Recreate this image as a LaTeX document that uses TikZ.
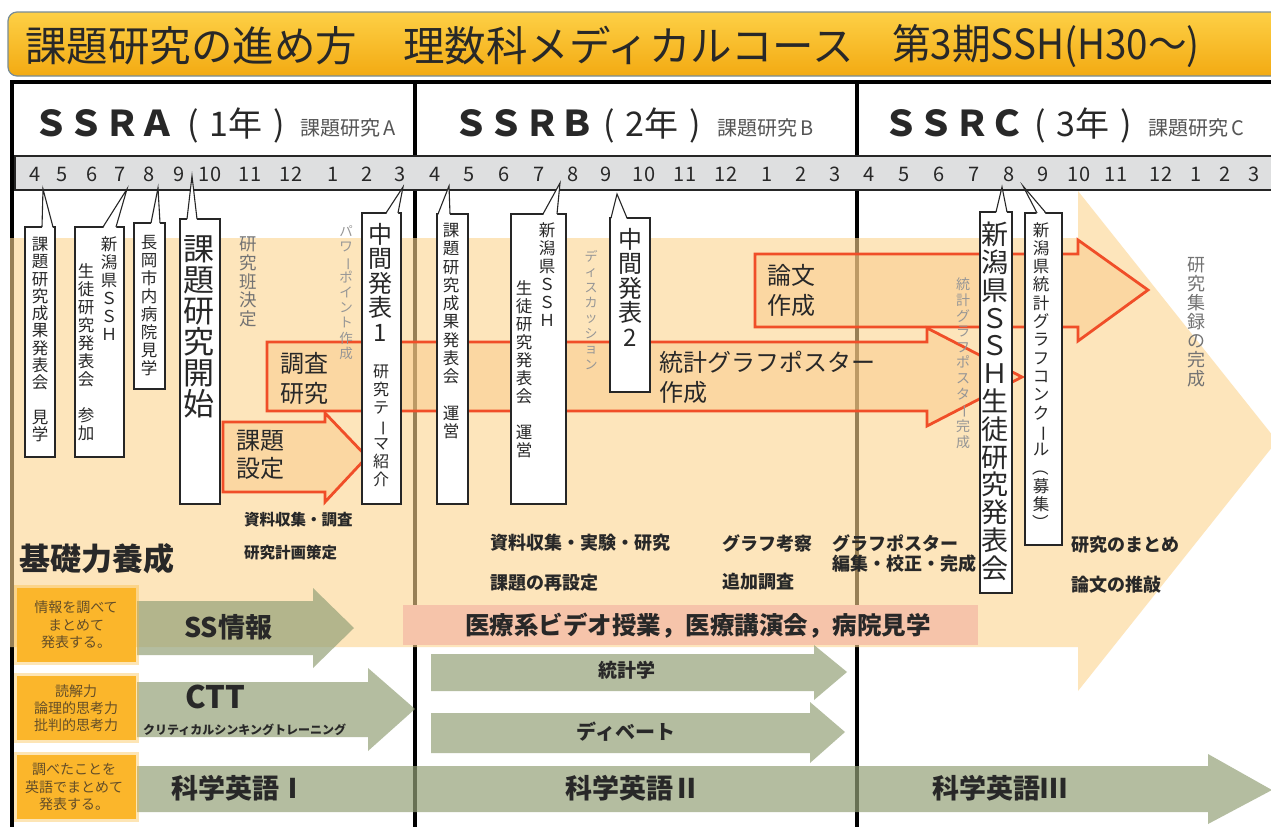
\documentclass[tikz,border=0pt]{standalone}
\usepackage{fontspec}
\usepackage{graphicx}
\setmainfont{Noto Sans CJK JP}
\definecolor{txt}{RGB}{40,40,40}
\definecolor{peachc}{RGB}{252,212,143}
\definecolor{arrowfill}{RGB}{248,196,125}
\definecolor{redl}{RGB}{240,78,40}
\definecolor{pinkb}{RGB}{246,196,170}
\definecolor{greenc}{RGB}{149,162,121}
\definecolor{orangeb}{RGB}{251,182,43}
\definecolor{ttop}{RGB}{253,208,70}
\definecolor{tbot}{RGB}{243,170,18}
\definecolor{tedge}{RGB}{120,140,150}
\definecolor{monthg}{RGB}{222,223,224}
\definecolor{graytxt}{RGB}{115,115,115}
\definecolor{lgraytxt}{RGB}{150,150,150}
\definecolor{brtxt}{RGB}{100,78,40}
\definecolor{hdrgray}{RGB}{85,85,85}
\newcommand\fs[2]{\fontsize{#1}{#2}\selectfont}
\makeatletter
\def\vst#1{\vst@a#1\relax}
\def\vst@a#1{#1\vst@b}
\def\vst@b#1{\ifx\relax#1\else\\#1\expandafter\vst@b\fi}
\makeatother
\newcommand\vrot[1]{\rotatebox[origin=c]{-90}{#1}}
\newcommand\callout[8]{%
  \draw[callbox] (#1,#2) rectangle (#3,#4);
  \fill[white] (#5,#2+1.5) -- (#7,#8) -- (#6,#2+1.5) -- cycle;
  \draw[ptr] (#5,#2) -- (#7,#8) -- (#6,#2);
}
\tikzset{
  callbox/.style={draw=black!85, line width=1.3pt, fill=white},
  ptr/.style={draw=black!85, line width=1.1pt, line join=miter, miter limit=25},
  redarr/.style={draw=redl, line width=2.8pt, fill=arrowfill, fill opacity=0.4, line join=miter},
  greenarr/.style={fill=greenc, fill opacity=0.7},
  vt/.style={inner sep=0pt, anchor=north, align=center, text=txt},
  ht/.style={inner sep=0pt, text=txt},
  month/.style={inner sep=0pt, text=txt, font=\fs{20}{20}},
}
\begin{document}
\begin{tikzpicture}[x=1pt,y=-1pt]
\useasboundingbox (0,0) rectangle (1271,827);
\clip (0,0) rectangle (1271,827);
\fill[white] (0,0) rectangle (1271,827);

% ---------- title bar
\shade[rounded corners=9pt, top color=ttop, bottom color=tbot, draw=tedge, line width=1.2pt] (8,12) rectangle (1320,76);
\node[ht, anchor=west, font=\fs{41.5}{41.5}] (title1) at (25,46) {課題研究の進め方};
\node[ht, anchor=west, font=\fs{41.5}{41.5}] (title2) at (403,46) {理数科メディカルコース};
\node[ht, anchor=west, font=\fs{41.5}{41.5}] (title3) at (892,46) {\scalebox{0.93}[1]{第3期SSH(H30～)}};

% ---------- frame
\fill[black] (10,80) rectangle (1271,84);
\fill[black] (10,80) rectangle (14,827);
\fill[black] (413,84) rectangle (417,827);
\fill[black] (855,84) rectangle (859,827);

% ---------- header
\node[ht, anchor=base west, font={\fs{35.5}{35.5}\bfseries}] (ha1) at (33,136) {ＳＳＲＡ};
\node[ht, anchor=base, font=\fs{34}{34}] (ha2) at (236,136) {(\hspace{11pt}1年\hspace{11pt})};
\node[ht, anchor=base west, font=\fs{20}{20}, text=hdrgray] (ha3) at (300,135) {課題研究\,A};
\node[ht, anchor=base west, font={\fs{35.5}{35.5}\bfseries}] (hb1) at (453,136) {ＳＳＲＢ};
\node[ht, anchor=base, font=\fs{34}{34}] (hb2) at (652,136) {(\hspace{11pt}2年\hspace{11pt})};
\node[ht, anchor=base west, font=\fs{20}{20}, text=hdrgray] (hb3) at (717,135) {課題研究\,B};
\node[ht, anchor=base west, font={\fs{35.5}{35.5}\bfseries}] (hc1) at (883,136) {ＳＳＲＣ};
\node[ht, anchor=base, font=\fs{34}{34}] (hc2) at (1083,136) {(\hspace{11pt}3年\hspace{11pt})};
\node[ht, anchor=base west, font=\fs{20}{20}, text=hdrgray] (hc3) at (1148,135) {課題研究\,C};

% ---------- month row
\fill[monthg] (15,156) rectangle (1271,190);
\draw[black!85, line width=1.6pt] (1271,156) -- (15,156) -- (15,190) -- (1271,190);
\foreach \x/\m [count=\i] in {35/4,62/5,92/6,120/7,149/8,179/9,210/10,250/11,291/12,333/1,367/2,400/3,
  435/4,469/5,504/6,539/7,573/8,606/9,644/10,685/11,726/12,767/1,801/2,835/3,
  869/4,904/5,939/6,974/7,1009/8,1043/9,1079/10,1116/11,1161/12,1196/1,1225/2,1254/3}
  \node[month] (mon\i) at (\x,174) {\m};

% ---------- peach background with big arrow
\fill[peachc, fill opacity=0.6] (10,238) -- (1078,238) -- (1078,191) -- (1277,441) -- (1078,691) -- (1078,647) -- (10,647) -- cycle;

% ---------- red outlined arrows
\draw[redarr] (755,254) -- (1078,254) -- (1078,240) -- (1148,290) -- (1078,341) -- (1078,327) -- (755,327) -- cycle;
\draw[redarr] (267,342) -- (927,342) -- (927,328) -- (1022,377) -- (927,426) -- (927,411) -- (267,411) -- cycle;
\draw[redarr] (223,422) -- (325,422) -- (325,413) -- (367,457) -- (325,502) -- (325,492) -- (223,492) -- cycle;

\node[ht, anchor=north west, align=left, font=\fs{24}{30}] (lab1) at (280,352) {調査\\研究};
\node[ht, anchor=north west, align=left, font=\fs{24}{28}] (lab2) at (236,430) {課題\\設定};
\node[ht, anchor=north west, align=left, font=\fs{24}{30}] (lab3) at (767,264) {論文\\作成};
\node[ht, anchor=north west, align=left, font=\fs{24}{30}] (lab4) at (659,351) {統計グラフポスター\\作成};

% ---------- free gray vertical texts
\node[vt, text=graytxt, font=\fs{17.5}{18.6}] (g1) at (248,237) {\vst{研究班決定}};
\node[vt, text=lgraytxt, font=\fs{13.5}{15.3}] (g2) at (346,225) {\vst{パワ{\vrot{ー}}ポイント作成}};
\node[vt, text=lgraytxt, font=\fs{13}{15.4}] (g3) at (591,250) {\vst{ディスカッション}};
\node[vt, text=lgraytxt, font=\fs{14}{15.6}] (g4) at (963,278) {\vst{統計グラフポスタ{\vrot{ー}}完成}};
\node[vt, text=graytxt, font=\fs{18}{19}] (g5) at (1196,257) {\vst{研究集録の完成}};

% ---------- callouts
\callout{25}{227}{55}{457}{42}{53}{43}{189}
\node[vt, font=\fs{16.5}{17.3}] (c1) at (40,237) {\vst{課題研究成果発表会　見学}};

\callout{75}{227}{124}{457}{103}{116}{127}{189}
\node[vt, font=\fs{16.5}{18}] (c2a) at (109,237) {\vst{新潟県ＳＳＨ}};
\node[vt, font=\fs{16.5}{18}] (c2b) at (86,263) {\vst{生徒研究発表会　参加}};

\callout{134}{223}{165}{389}{151}{160}{158}{188}
\node[vt, font=\fs{16.5}{18}] (c3) at (149,235) {\vst{長岡市内病院見学}};

\callout{180}{219}{220}{504}{187}{197}{192}{176}
\node[vt, font=\fs{31}{31}] (c4) at (199,235) {\vst{課題研究開始}};

\callout{362}{213}{401}{504}{386}{398}{403}{187}
\node[vt, font=\fs{24}{24.5}] (c5a) at (380,223) {\vst{中間発表1}};
\node[vt, font=\fs{16}{18}] (c5b) at (381,365) {\vst{研究テ{\vrot{ー}}マ紹介}};

\callout{437}{214}{468}{504}{438}{450}{449}{186}
\node[vt, font=\fs{16.5}{18.3}] (c6) at (451,223) {\vst{課題研究成果発表会　運営}};

\callout{511}{214}{566}{504}{543}{557}{560}{183}
\node[vt, font=\fs{16.5}{18}] (c7a) at (547,223) {\vst{新潟県ＳＳＨ}};
\node[vt, font=\fs{16.5}{18}] (c7b) at (524,280) {\vst{生徒研究発表会　運営}};

\callout{610}{218}{650}{392}{611}{627}{617}{194}
\node[vt, font=\fs{24}{24.5}] (c8) at (630,228) {\vst{中間発表2}};

\callout{980}{212}{1012}{593}{996}{1007}{1002}{187}
\node[vt, font=\fs{27}{27.8}] (c9) at (995,222) {\vst{新潟県ＳＳＨ生徒研究発表会}};

\callout{1025}{213}{1062}{545}{1037}{1046}{1023}{186}
\node[vt, font=\fs{16.5}{18.3}] (c10) at (1041,222) {\vst{新潟県統計グラフコンク{\vrot{ー}}ル{\vrot{（}}募集{\vrot{）}}}};

% ---------- bold notes
\node[ht, anchor=west, font={\fs{15.5}{15.5}\bfseries}] (n1) at (244,520) {資料収集・調査};
\node[ht, anchor=west, font={\fs{15.5}{15.5}\bfseries}] (n2) at (244,553) {研究計画策定};
\node[ht, anchor=west, font={\fs{18}{18}\bfseries}] (n3) at (490,543) {資料収集・実験・研究};
\node[ht, anchor=west, font={\fs{18}{18}\bfseries}] (n4) at (490,583) {課題の再設定};
\node[ht, anchor=west, font={\fs{18}{18}\bfseries}] (n5) at (722,543) {グラフ考察};
\node[ht, anchor=west, font={\fs{18}{18}\bfseries}] (n6) at (722,582) {追加調査};
\node[ht, anchor=north west, align=left, font={\fs{18}{20}\bfseries}] (n7) at (832,534) {グラフポスター\\編集・校正・完成};
\node[ht, anchor=west, font={\fs{18}{18}\bfseries}] (n8) at (1071,545) {研究のまとめ};
\node[ht, anchor=west, font={\fs{18}{18}\bfseries}] (n9) at (1071,585) {論文の推敲};
\node[ht, anchor=west, font={\fs{31}{31}\bfseries}] (kiso) at (19,559) {基礎力養成};

% ---------- bottom rows
\fill[pinkb] (403,605) rectangle (978,645);
\node[ht, font={\fs{24.5}{24.5}\bfseries}] (iryo) at (698,626) {医療系ビデオ授業，医療講演会，病院見学};

\fill[greenarr] (137,601) -- (313,601) -- (313,588) -- (354,628) -- (313,668) -- (313,655) -- (137,655) -- cycle;
\fill[greenarr] (137,682) -- (368,682) -- (368,668) -- (415,709) -- (368,751) -- (368,737) -- (137,737) -- cycle;
\fill[greenarr] (431,654) -- (814,654) -- (814,645) -- (847,672) -- (814,700) -- (814,691) -- (431,691) -- cycle;
\fill[greenarr] (431,713) -- (810,713) -- (810,702) -- (845,732) -- (810,763) -- (810,753) -- (431,753) -- cycle;
\fill[greenarr] (137,766) -- (1208,766) -- (1208,754) -- (1272,790) -- (1208,824) -- (1208,812) -- (137,812) -- cycle;

\node[ht, anchor=west, font={\fs{27}{27}\bfseries}] (ss) at (184,627) {SS情報};
\node[ht, anchor=west, font={\fs{31}{31}\bfseries}] (ctt) at (185,697) {CTT};
\node[ht, anchor=west, font={\fs{12}{12}\bfseries}] (ctt2) at (143,730) {クリティカルシンキングトレーニング};
\node[ht, font={\fs{19}{19}\bfseries}] (toukei) at (627,670) {統計学};
\node[ht, font={\fs{20}{20}\bfseries}] (debate) at (626,732) {ディベート};
\node[ht, anchor=west, font={\fs{27}{27}\bfseries}] (eng1) at (171,788) {科学英語Ⅰ};
\node[ht, anchor=west, font={\fs{27}{27}\bfseries}] (eng2) at (565,788) {科学英語Ⅱ};
\node[ht, anchor=west, font={\fs{27}{27}\bfseries}] (eng3) at (932,788) {科学英語Ⅲ};

\foreach \ya/\yb [count=\i] in {587/663, 675/741, 754/820} {
  \fill[orangeb, opacity=0.35] (14,\ya-2) rectangle (139,\yb+2);
  \fill[orangeb] (17,\ya+1) rectangle (136,\yb-1);
}
\node[ht, align=center, text=brtxt, font=\fs{14}{17.5}] (o1) at (76,625) {情報を調べて\\まとめて\\発表する。};
\node[ht, align=center, text=brtxt, font=\fs{14}{16.7}] (o2) at (76,708) {読解力\\論理的思考力\\批判的思考力};
\node[ht, align=center, text=brtxt, font=\fs{14}{17.5}] (o3) at (74,787) {調べたことを\\英語でまとめて\\発表する。};
\end{tikzpicture}
\end{document}
